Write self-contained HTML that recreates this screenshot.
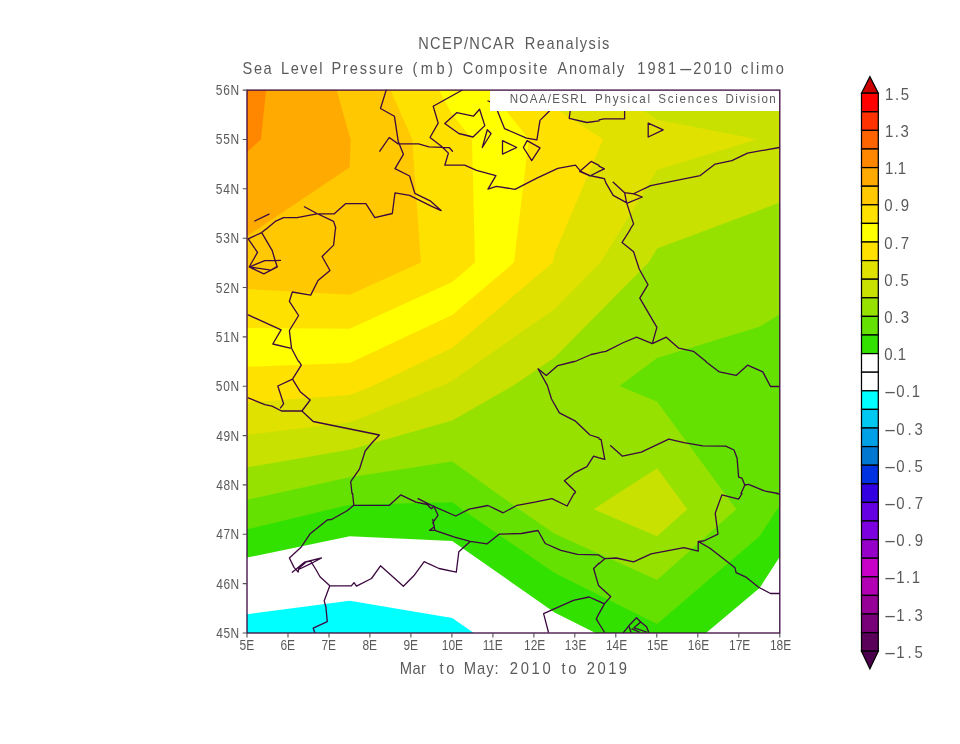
<!DOCTYPE html>
<html lang="en"><head><meta charset="utf-8"><title>NCEP/NCAR Reanalysis - Sea Level Pressure Composite Anomaly</title>
<style>html,body{margin:0;padding:0;background:#fff}body{width:960px;height:744px;overflow:hidden}svg{display:block}text{font-family:"Liberation Sans",sans-serif;fill:#5a5a5a}</style></head><body>
<svg width="960" height="744" viewBox="0 0 960 744">
<rect width="960" height="744" fill="#fff"/>
<g id="shade" shape-rendering="geometricPrecision"><rect x="247.00" y="90.10" width="532.75" height="542.90" fill="#00ffff"/>
<path fill="#ffffff" d="M247.0,614.3 349.7,600.7 452.2,617.9 473.1,632.5 473.1,633.0 779.8,633.0 779.8,90.1 247.0,90.1Z"/>
<path fill="#32e100" d="M247.2,557.6 349.7,536.2 452.2,541.1 554.6,612.4 594.5,632.5 594.5,633.0 706.6,633.0 706.6,632.5 759.6,588.1 779.8,556.7 779.8,90.1 247.0,90.1 247.0,557.6Z"/>
<path fill="#64e100" d="M247.2,529.3 330.6,509.2 349.7,504.7 452.2,502.3 461.8,509.2 554.6,573.1 657.1,623.9 759.6,536.3 777.0,509.2 779.8,506.1 779.8,90.1 247.0,90.1 247.0,529.3Z"/>
<path fill="#96e100" d="M247.2,499.7 349.7,477.3 452.2,461.4 519.0,509.2 554.6,533.7 657.1,580.1 736.3,509.2 657.1,401.8 619.5,385.9 657.1,358.0 759.6,326.7 779.8,314.3 779.8,90.1 247.0,90.1 247.0,499.7Z"/>
<path fill="#c8e100" d="M247.2,467.3 349.7,449.8 452.2,420.5 512.7,385.9 554.6,357.4 648.6,262.6 657.1,248.6 759.6,210.3 779.8,202.5 779.8,90.1 247.0,90.1 247.0,467.3ZM593.5,509.2 657.1,536.2 687.3,509.2 657.1,468.2Z"/>
<path fill="#e1e100" d="M247.0,434.8 349.7,422.4 441.6,385.9 452.2,380.8 554.6,308.9 600.6,262.6 657.1,170.0 757.3,139.2 657.1,119.8 612.7,90.1 247.0,90.1Z"/>
<path fill="#ffe100" d="M247.0,402.4 349.7,394.9 372.4,385.9 452.2,347.8 552.9,262.6 554.7,253.3 603.0,139.2 554.6,108.2 540.2,90.1 247.0,90.1Z"/>
<path fill="#ffff00" d="M247.0,366.8 349.7,363.0 452.2,314.9 514.0,262.6 528.8,139.2 489.8,90.1 247.0,90.1Z"/>
<path fill="#ffe100" d="M247.0,327.9 349.7,328.8 452.2,281.9 475.0,262.6 472.0,139.2 452.2,114.2 438.8,90.1 247.0,90.1Z"/>
<path fill="#ffc800" d="M412.2,139.2 390.5,90.1 247.0,90.1 247.0,289.1 349.7,294.7 420.9,262.6Z"/>
<path fill="#ffaa00" d="M350.7,139.2 349.7,136.7 336.7,90.1 247.0,90.1 247.0,236.0 247.2,236.0 349.7,167.2Z"/>
<path fill="#ff8700" d="M261.0,139.2 266.1,90.1 247.0,90.1 247.0,152.1 247.2,152.1Z"/></g>
<g id="map" fill="none" stroke="#3c0840" stroke-width="1.3" stroke-linejoin="round" stroke-linecap="round"><path d="M386.2,90.1 380.5,108.5 394.4,116.2 398.2,141.2 403.4,154.3 395.0,168.7 409.6,176.0 414.8,193.3M409.6,195.4 395.0,192.9 392.3,213.5 374.8,217.7 365.9,203.7 345.5,203.7 334.0,213.9 316.9,213.9 297.1,217.7 283.6,217.7 275.2,221.4 265.7,229.5M379.8,151.2 389.2,137.5 398.2,143.9 418.6,143.9 429.0,146.9M254.8,221.0 269.0,214.1M304.4,206.8 316.9,213.5 333.6,221.4 335.7,227.7 335.4,229.5M461.9,90.2 433.2,106.2 438.2,123.1 430.0,137.5 441.1,146.0 448.4,153.1 444.8,165.2 464.6,165.2 476.5,170.4 495.9,175.6 488.0,189.1 496.3,186.4 515.0,189.3 536.9,178.1 557.8,168.3 575.5,165.2 580.7,171.4 590.0,175.6 599.0,177.5M429.0,146.9 449.4,147.7 452.5,151.2M444.8,123.5 456.7,112.7 473.4,116.2 479.6,109.3 484.8,125.6 473.0,137.0 458.8,133.5 444.8,123.5M487.3,129.8 482.3,147.5 491.1,133.5 487.3,129.8M502.5,140.6 502.5,154.1 516.7,147.5 502.5,140.6M527.1,140.6 540.0,147.9 531.7,160.6 523.4,147.5 527.1,140.6M497.3,110.6 504.6,128.7 526.5,138.1 536.9,139.8 540.0,120.4 549.4,111.0M488.0,101.0 490.0,101.6M579.6,171.4 591.1,161.4 599.0,165.4M599.0,171.3 590.0,176.0 579.6,171.4M570.2,111.0 569.2,118.3 586.9,122.5 599.0,120.9M599.0,166.1 604.4,168.9 599.0,171.3M599.0,177.5 604.4,178.7M599.0,119.8 603.8,118.9 624.6,118.9 624.6,111.0M648.2,123.1 648.2,137.0 663.2,129.8 648.2,123.1M604.4,178.7 605.9,182.9 613.2,195.4 627.3,203.1 642.3,197.0 634.0,193.9 624.6,192.7 613.2,182.2M634.0,193.5 650.7,185.6 677.8,180.2 700.2,175.6 715.2,164.1 731.9,160.6 747.5,153.1 779.4,147.5M624.6,192.7 626.7,203.1 633.6,223.9 630.0,229.5M265.4,229.5 261.7,232.6 248.2,238.8M248.2,238.8 257.5,252.4 249.2,267.0 263.8,273.8 277.3,267.0 275.2,260.7 272.1,250.3 261.7,232.6M249.2,267.0 264.8,260.7 274.8,260.7 280.5,260.3M249.2,267.0 271.1,270.1 277.3,266.3M335.3,229.5 333.6,245.1 322.1,256.5 330.0,270.5 318.0,280.5 310.7,295.1 292.3,292.0 289.4,301.3 298.6,315.5 289.4,330.5 291.5,348.2 298.5,361.5M248.2,314.9 281.1,329.9 272.8,344.0 290.2,348.2M575.0,361.5 591.1,354.5 599.0,352.8M630.3,229.5 622.1,242.4 633.6,251.8 639.2,269.0 648.0,284.7 639.8,298.2 656.9,327.4 652.3,343.6M599.0,352.7 605.9,351.3 622.5,343.0 636.5,337.2 652.3,343.6 666.3,337.2 678.8,348.2 693.4,351.3 706.1,361.5M299.1,361.5 301.3,365.2 292.5,379.2 300.2,391.7 310.2,400.0 301.9,411.0 313.2,421.5 379.4,435.0 371.1,443.8 365.2,451.0 359.6,468.8 350.7,481.7 352.0,493.5M292.5,379.2 277.8,386.0 283.6,403.8 280.5,407.9M248.2,397.9 264.8,404.6 272.1,406.2 281.5,411.0 301.9,411.0M574.2,361.5 557.8,365.6 546.3,375.4 538.0,368.8 547.3,385.4 551.5,399.0 559.4,412.9 575.5,421.2 590.0,435.0 599.0,437.8M599.0,457.8 593.6,456.2 586.9,466.7 574.4,472.9 564.4,480.8 575.5,491.7 574.7,493.5M599.0,438.8 601.1,439.6 604.8,459.4 599.0,457.8M705.8,361.5 706.9,362.5 719.4,371.9 736.1,375.4 747.5,365.2 762.8,371.9 770.5,386.5 779.4,386.5M610.7,445.8 622.5,456.2 641.3,452.1 668.8,439.2 684.0,442.7 702.8,445.8 725.7,446.2 734.0,450.0 737.1,458.3 738.6,477.1 741.9,478.1 744.8,485.0 748.6,484.4 765.2,491.2 778.0,493.5M741.0,493.5 744.8,485.0M352.6,493.5 353.8,505.3 389.4,505.3 400.7,494.9 415.9,502.2 427.3,504.5M418.0,498.7 429.0,504.2M427.3,504.5 429.0,506.3M353.8,505.3 347.1,510.8 331.5,519.5 327.3,519.9 310.2,533.7 301.3,547.0 289.4,558.0 294.0,567.4 298.2,572.0 298.6,568.5 306.5,561.8 310.7,561.2 315.9,569.5 320.0,576.8 329.8,585.8 351.3,585.8 354.0,582.6 356.5,586.2 371.5,578.5 380.5,565.8 403.4,586.2 413.8,575.8 424.2,561.6 429.0,564.0M292.3,572.2 304.4,562.2 321.5,558.0 310.7,563.7 298.6,569.5M329.8,585.8 324.2,600.8 325.9,607.0 327.3,621.6 313.2,628.2 314.8,632.4M429.0,506.3 429.6,506.6M429.0,504.1 432.8,506.0M429.0,506.7 431.7,508.7 433.8,506.0 438.0,515.3 432.8,522.6 434.4,526.8 429.6,530.3 434.8,530.3M432.8,519.5 434.8,529.9M432.8,506.0 455.7,516.0 469.2,509.1 488.0,505.5 503.2,512.8 517.1,505.3 534.8,502.2 551.9,498.7 567.1,506.0 574.0,493.5M434.8,530.3 454.6,537.2 470.2,541.4 486.9,543.9 499.4,534.1 521.3,533.5 538.0,530.5 545.2,543.5 560.9,550.3 577.5,554.3 598.4,554.9 599.0,555.2M470.2,541.4 458.8,551.8 456.3,572.2 439.0,568.5 429.0,563.9M599.0,563.3 593.6,568.5 598.4,585.1 599.0,585.7M599.0,613.5 596.3,618.9 599.0,623.5M599.0,601.3 589.0,597.0 573.4,600.3 543.6,613.7 548.4,632.0M776.6,493.5 779.4,494.1M742.0,493.5 738.6,499.1 721.9,494.9 715.2,513.2 718.0,534.1 703.8,541.0 698.2,541.4 698.2,551.2 684.0,547.6 651.1,553.9 633.6,561.8 616.3,558.0 604.8,558.7 599.0,555.2M698.2,541.4 710.0,548.2 735.0,567.8 736.1,572.6 745.5,576.8 758.6,587.2 770.5,593.5 779.4,593.5M604.8,558.7 599.0,563.7M599.0,585.9 610.7,596.6 604.4,603.9 599.0,613.6M599.0,623.5 604.4,632.0M599.0,601.3 604.4,603.9M623.6,632.4 628.8,625.8 636.5,617.8 640.7,622.0 646.5,626.8 648.6,632.0M628.8,625.8 630.9,632.0M634.0,627.8 640.7,622.0M634.0,627.8 646.5,632.0M631.9,628.9 639.2,632.0M414.8,193.3 430.7,201.2 441.1,210.6 430.7,205.8 409.6,195.4"/></g>
<rect x="490" y="90.1" width="289.75" height="20.9" fill="#fff"/>
<rect x="247.0" y="90.1" width="532.8" height="542.9" fill="none" stroke="#3c0840" stroke-width="1.3"/>
<path d="M247.0,633.0h-4.3M247.0,583.6h-4.3M247.0,534.3h-4.3M247.0,484.9h-4.3M247.0,435.6h-4.3M247.0,386.2h-4.3M247.0,336.9h-4.3M247.0,287.5h-4.3M247.0,238.2h-4.3M247.0,188.8h-4.3M247.0,139.5h-4.3M247.0,90.1h-4.3M247.0,633.0v4.6M288.0,633.0v4.6M329.0,633.0v4.6M369.9,633.0v4.6M410.9,633.0v4.6M451.9,633.0v4.6M492.9,633.0v4.6M533.9,633.0v4.6M574.8,633.0v4.6M615.8,633.0v4.6M656.8,633.0v4.6M697.8,633.0v4.6M738.8,633.0v4.6M779.8,633.0v4.6" stroke="#505050" stroke-width="1.1" fill="none"/>
<g id="labels"><text y="49.30" font-size="16.20" transform="scale(0.900,1)"><tspan x="464.67" letter-spacing="1.46">NCEP/NCAR</tspan> <tspan x="583.14" letter-spacing="1.64">Reanalysis</tspan></text>
<text y="74.10" font-size="16.20" transform="scale(0.900,1)"><tspan x="269.55" letter-spacing="1.77">Sea</tspan> <tspan x="312.31" letter-spacing="1.84">Level</tspan> <tspan x="368.29" letter-spacing="2.11">Pressure</tspan> <tspan x="458.33" letter-spacing="3.88">(mb)</tspan> <tspan x="514.12" letter-spacing="2.08">Composite</tspan> <tspan x="619.41" letter-spacing="1.88">Anomaly</tspan> <tspan x="708.17" letter-spacing="2.34">1981<tspan letter-spacing="0" textLength="16.69" lengthAdjust="spacingAndGlyphs">-</tspan>2010</tspan> <tspan x="823.47" letter-spacing="2.40">climo</tspan></text>
<text y="673.80" font-size="16.40" transform="scale(0.900,1)"><tspan x="444.16" letter-spacing="0.47">Mar</tspan> <tspan x="488.37" letter-spacing="2.82">to</tspan> <tspan x="515.19" letter-spacing="1.14">May:</tspan> <tspan x="566.29" letter-spacing="3.08">2010</tspan> <tspan x="623.93" letter-spacing="2.85">to</tspan> <tspan x="652.01" letter-spacing="2.74">2019</tspan></text>
<text y="103.50" font-size="12.90" transform="scale(0.900,1)"><tspan x="566.31" letter-spacing="1.43">NOAA/ESRL</tspan> <tspan x="661.22" letter-spacing="1.86">Physical</tspan> <tspan x="731.43" letter-spacing="1.92">Sciences</tspan> <tspan x="806.16" letter-spacing="1.51">Division</tspan></text>
<text y="638.00" font-size="14.60" transform="scale(0.820,1)"><tspan x="263.63" letter-spacing="0.69">45N</tspan></text>
<text y="588.65" font-size="14.60" transform="scale(0.820,1)"><tspan x="263.63" letter-spacing="0.69">46N</tspan></text>
<text y="539.29" font-size="14.60" transform="scale(0.820,1)"><tspan x="263.63" letter-spacing="0.69">47N</tspan></text>
<text y="489.94" font-size="14.60" transform="scale(0.820,1)"><tspan x="263.63" letter-spacing="0.69">48N</tspan></text>
<text y="440.58" font-size="14.60" transform="scale(0.820,1)"><tspan x="263.63" letter-spacing="0.69">49N</tspan></text>
<text y="391.23" font-size="14.60" transform="scale(0.820,1)"><tspan x="262.97" letter-spacing="1.02">50N</tspan></text>
<text y="341.87" font-size="14.60" transform="scale(0.820,1)"><tspan x="262.97" letter-spacing="1.02">51N</tspan></text>
<text y="292.52" font-size="14.60" transform="scale(0.820,1)"><tspan x="262.97" letter-spacing="1.02">52N</tspan></text>
<text y="243.16" font-size="14.60" transform="scale(0.820,1)"><tspan x="262.97" letter-spacing="1.02">53N</tspan></text>
<text y="193.81" font-size="14.60" transform="scale(0.820,1)"><tspan x="262.97" letter-spacing="1.02">54N</tspan></text>
<text y="144.45" font-size="14.60" transform="scale(0.820,1)"><tspan x="262.97" letter-spacing="1.02">55N</tspan></text>
<text y="95.10" font-size="14.60" transform="scale(0.820,1)"><tspan x="262.97" letter-spacing="1.02">56N</tspan></text>
<text y="649.60" font-size="14.60" transform="scale(0.820,1)"><tspan x="292.21" letter-spacing="-0.10">5E</tspan></text>
<text y="649.60" font-size="14.60" transform="scale(0.820,1)"><tspan x="342.16" letter-spacing="-0.20">6E</tspan></text>
<text y="649.60" font-size="14.60" transform="scale(0.820,1)"><tspan x="392.15" letter-spacing="-0.34">7E</tspan></text>
<text y="649.60" font-size="14.60" transform="scale(0.820,1)"><tspan x="442.20" letter-spacing="-0.24">8E</tspan></text>
<text y="649.60" font-size="14.60" transform="scale(0.820,1)"><tspan x="492.10" letter-spacing="-0.29">9E</tspan></text>
<text y="649.60" font-size="14.60" transform="scale(0.820,1)"><tspan x="538.69" letter-spacing="0.02">10E</tspan></text>
<text y="649.60" font-size="14.60" transform="scale(0.820,1)"><tspan x="588.69" letter-spacing="-0.19">11E</tspan></text>
<text y="649.60" font-size="14.60" transform="scale(0.820,1)"><tspan x="638.99" letter-spacing="0.05">12E</tspan></text>
<text y="649.60" font-size="14.60" transform="scale(0.820,1)"><tspan x="688.84" letter-spacing="0.15">13E</tspan></text>
<text y="649.60" font-size="14.60" transform="scale(0.820,1)"><tspan x="739.01" letter-spacing="-0.01">14E</tspan></text>
<text y="649.60" font-size="14.60" transform="scale(0.820,1)"><tspan x="789.01" letter-spacing="0.01">15E</tspan></text>
<text y="649.60" font-size="14.60" transform="scale(0.820,1)"><tspan x="838.86" letter-spacing="0.01">16E</tspan></text>
<text y="649.60" font-size="14.60" transform="scale(0.820,1)"><tspan x="889.03" letter-spacing="0.01">17E</tspan></text>
<text y="649.60" font-size="14.60" transform="scale(0.820,1)"><tspan x="938.88" letter-spacing="0.01">18E</tspan></text>
<text y="99.90" font-size="17.00" transform="scale(0.880,1)"><tspan x="1005.72" letter-spacing="1.79">1.5</tspan></text>
<text y="137.10" font-size="17.00" transform="scale(0.880,1)"><tspan x="1005.72" letter-spacing="1.67">1.3</tspan></text>
<text y="174.30" font-size="17.00" transform="scale(0.880,1)"><tspan x="1005.72" letter-spacing="0.16">1.1</tspan></text>
<text y="211.50" font-size="17.00" transform="scale(0.880,1)"><tspan x="1004.78" letter-spacing="2.35">0.9</tspan></text>
<text y="248.70" font-size="17.00" transform="scale(0.880,1)"><tspan x="1004.78" letter-spacing="2.36">0.7</tspan></text>
<text y="285.90" font-size="17.00" transform="scale(0.880,1)"><tspan x="1004.78" letter-spacing="2.15">0.5</tspan></text>
<text y="323.10" font-size="17.00" transform="scale(0.880,1)"><tspan x="1004.78" letter-spacing="2.27">0.3</tspan></text>
<text y="360.30" font-size="17.00" transform="scale(0.880,1)"><tspan x="1004.78" letter-spacing="0.60">0.1</tspan></text>
<text y="397.50" font-size="17.00" transform="scale(0.880,1)"><tspan x="1004.19" letter-spacing="1.65"><tspan letter-spacing="0" textLength="14.40" lengthAdjust="spacingAndGlyphs">-</tspan>0.1</tspan></text>
<text y="434.70" font-size="17.00" transform="scale(0.880,1)"><tspan x="1004.19" letter-spacing="3.24"><tspan letter-spacing="0" textLength="14.40" lengthAdjust="spacingAndGlyphs">-</tspan>0.3</tspan></text>
<text y="471.90" font-size="17.00" transform="scale(0.880,1)"><tspan x="1004.19" letter-spacing="3.22"><tspan letter-spacing="0" textLength="14.40" lengthAdjust="spacingAndGlyphs">-</tspan>0.5</tspan></text>
<text y="509.10" font-size="17.00" transform="scale(0.880,1)"><tspan x="1004.19" letter-spacing="3.33"><tspan letter-spacing="0" textLength="14.40" lengthAdjust="spacingAndGlyphs">-</tspan>0.7</tspan></text>
<text y="546.30" font-size="17.00" transform="scale(0.880,1)"><tspan x="1004.19" letter-spacing="3.32"><tspan letter-spacing="0" textLength="14.40" lengthAdjust="spacingAndGlyphs">-</tspan>0.9</tspan></text>
<text y="583.50" font-size="17.00" transform="scale(0.880,1)"><tspan x="1004.19" letter-spacing="1.65"><tspan letter-spacing="0" textLength="14.40" lengthAdjust="spacingAndGlyphs">-</tspan>1.1</tspan></text>
<text y="620.70" font-size="17.00" transform="scale(0.880,1)"><tspan x="1004.19" letter-spacing="3.24"><tspan letter-spacing="0" textLength="14.40" lengthAdjust="spacingAndGlyphs">-</tspan>1.3</tspan></text>
<text y="657.90" font-size="17.00" transform="scale(0.880,1)"><tspan x="1004.19" letter-spacing="3.22"><tspan letter-spacing="0" textLength="14.40" lengthAdjust="spacingAndGlyphs">-</tspan>1.5</tspan></text></g>
<g id="colorbar" stroke="#000" stroke-width="1.25" stroke-linejoin="miter">
<path d="M861.5,93.2L869.9,76.7L878.3,93.2Z" fill="#cc0000"/>
<rect x="861.5" y="93.20" width="16.8" height="18.60" fill="#ff0000"/>
<rect x="861.5" y="111.80" width="16.8" height="18.60" fill="#ff3200"/>
<rect x="861.5" y="130.40" width="16.8" height="18.60" fill="#ff6400"/>
<rect x="861.5" y="149.00" width="16.8" height="18.60" fill="#ff8700"/>
<rect x="861.5" y="167.60" width="16.8" height="18.60" fill="#ffaa00"/>
<rect x="861.5" y="186.20" width="16.8" height="18.60" fill="#ffc800"/>
<rect x="861.5" y="204.80" width="16.8" height="18.60" fill="#ffe100"/>
<rect x="861.5" y="223.40" width="16.8" height="18.60" fill="#ffff00"/>
<rect x="861.5" y="242.00" width="16.8" height="18.60" fill="#ffe100"/>
<rect x="861.5" y="260.60" width="16.8" height="18.60" fill="#e1e100"/>
<rect x="861.5" y="279.20" width="16.8" height="18.60" fill="#c8e100"/>
<rect x="861.5" y="297.80" width="16.8" height="18.60" fill="#96e100"/>
<rect x="861.5" y="316.40" width="16.8" height="18.60" fill="#64e100"/>
<rect x="861.5" y="335.00" width="16.8" height="18.60" fill="#32e100"/>
<rect x="861.5" y="353.60" width="16.8" height="18.60" fill="#ffffff"/>
<rect x="861.5" y="372.20" width="16.8" height="18.60" fill="#ffffff"/>
<rect x="861.5" y="390.80" width="16.8" height="18.60" fill="#00ffff"/>
<rect x="861.5" y="409.40" width="16.8" height="18.60" fill="#00c8f0"/>
<rect x="861.5" y="428.00" width="16.8" height="18.60" fill="#00a0e6"/>
<rect x="861.5" y="446.60" width="16.8" height="18.60" fill="#0078d2"/>
<rect x="861.5" y="465.20" width="16.8" height="18.60" fill="#0032e1"/>
<rect x="861.5" y="483.80" width="16.8" height="18.60" fill="#3200e1"/>
<rect x="861.5" y="502.40" width="16.8" height="18.60" fill="#6400e1"/>
<rect x="861.5" y="521.00" width="16.8" height="18.60" fill="#7d00e1"/>
<rect x="861.5" y="539.60" width="16.8" height="18.60" fill="#9600c8"/>
<rect x="861.5" y="558.20" width="16.8" height="18.60" fill="#c800c8"/>
<rect x="861.5" y="576.80" width="16.8" height="18.60" fill="#b400b4"/>
<rect x="861.5" y="595.40" width="16.8" height="18.60" fill="#960096"/>
<rect x="861.5" y="614.00" width="16.8" height="18.60" fill="#780078"/>
<rect x="861.5" y="632.60" width="16.8" height="18.60" fill="#5a005a"/>
<path d="M861.5,651.2L869.9,668.8L878.3,651.2Z" fill="#4b004b"/>
</g>
</svg></body></html>
